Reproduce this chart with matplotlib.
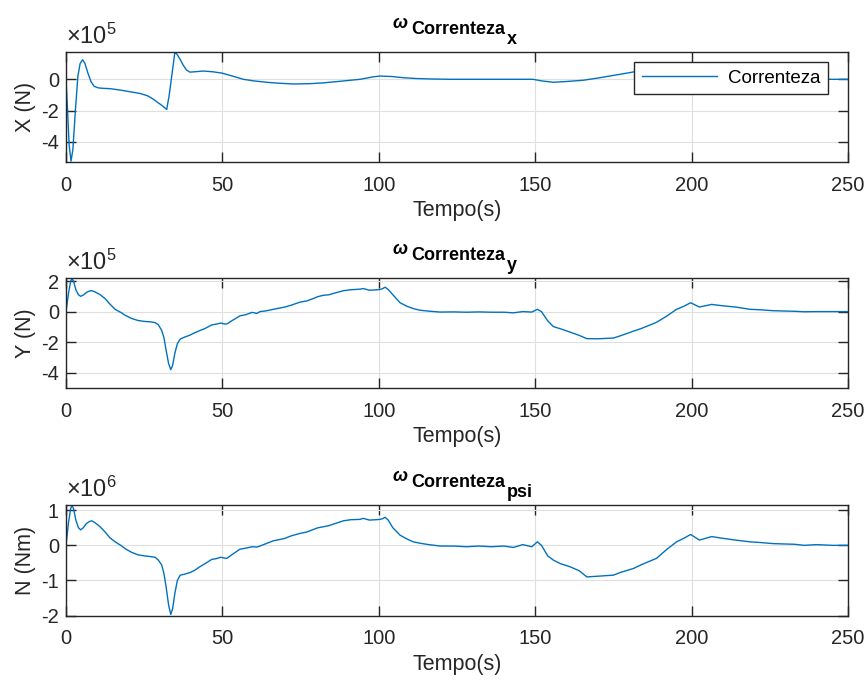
import numpy as np
import matplotlib
matplotlib.use("Agg")
import matplotlib.pyplot as plt
from matplotlib.ticker import FuncFormatter, FixedLocator

plt.rcParams['font.family'] = ['Liberation Sans', 'DejaVu Sans']
plt.rcParams['mathtext.fontset'] = 'custom'
plt.rcParams['mathtext.rm'] = 'Liberation Sans'
plt.rcParams['mathtext.it'] = 'Liberation Sans:italic'
plt.rcParams['mathtext.bf'] = 'Liberation Sans:bold'

# ---------------- data ----------------
x_labels = ["X (N)", "Y (N)", "N (Nm)"]
subscripts = ["x", "y", "psi"]
exponents = [5, 5, 6]
xticks = [0, 50, 100, 150, 200, 250]

# Force X (units of 1e5 N)
t_x = [0, 0.5, 1.0, 1.6, 2.2, 3.0, 3.8, 4.5, 5.3, 6.0, 7.0, 8.0, 9.0, 10.3, 12, 14.1, 17, 20,
       23.7, 26, 28, 29, 30.5, 32.2, 33, 33.8, 34.8, 35.5, 36.4, 37.5, 38.5, 39.6, 41, 43.9,
       47, 49.8, 53, 56.7, 60, 64.1, 68, 72.7, 78, 82.2, 88, 94, 98, 100.4, 104, 108, 112,
       117, 122.8, 130, 140, 149.3, 152, 155.8, 160, 165.4, 170, 175, 180, 183.5, 190, 195,
       205, 215, 225, 235, 250]
v_x = [0, -2.0, -4.2, -5.25, -4.5, -2.0, 0.2, 1.0, 1.25, 1.05, 0.4, -0.15, -0.45, -0.55,
       -0.58, -0.6, -0.68, -0.78, -0.91, -1.05, -1.28, -1.44, -1.65, -1.93, -1.0, 0.2, 1.73,
       1.6, 1.31, 0.9, 0.6, 0.46, 0.48, 0.53, 0.48, 0.4, 0.22, 0.0, -0.1, -0.19, -0.25, -0.3,
       -0.28, -0.23, -0.12, 0.0, 0.15, 0.21, 0.18, 0.1, 0.05, 0.02, 0.0, 0.0, 0.0, 0.0, -0.1,
       -0.19, -0.14, -0.06, 0.08, 0.25, 0.42, 0.55, 0.6, 0.55, 0.35, 0.15, 0.05, 0.0, 0.0]

# Force Y (units of 1e5 N)
t_y = [0, 0.8, 1.5, 1.9, 2.4, 3.2, 4.0, 4.7, 5.5, 6.5, 7.5, 8.2, 9.2, 10.9, 12.5, 14, 15.7,
       17.5, 19, 21, 23, 25, 27, 28.5, 29.5, 30.6, 31.3, 32, 32.8, 33.5, 34.1, 34.8, 35.6,
       36.5, 38, 39.5, 41, 42.8, 44.5, 46.6, 48, 49.5, 50.5, 51.4, 53, 55.6, 57.5, 59.5, 61,
       62, 64, 66.3, 68, 70, 72, 74.8, 77, 79, 80.5, 82.3, 84, 86, 88.7, 91, 94, 95, 97, 99,
       100.4, 101.2, 102, 103, 104.5, 106.8, 109, 111, 113.2, 116, 119.6, 124, 128, 132, 136,
       140, 143, 146, 148.9, 150.7, 152, 154, 155.8, 158, 161.1, 164, 166.5, 170, 175, 177,
       181.4, 184, 188.8, 192, 195.2, 197.5, 199.7, 202.5, 206.4, 210, 214, 218.7, 222, 226,
       229.3, 233, 236, 240, 245, 250]
v_y = [0, 1.2, 2.0, 2.15, 2.0, 1.4, 1.1, 1.0, 1.08, 1.25, 1.35, 1.37, 1.3, 1.11, 0.85, 0.5,
       0.15, -0.05, -0.25, -0.45, -0.58, -0.64, -0.67, -0.72, -0.85, -1.24, -1.7, -2.52, -3.4,
       -3.8, -3.5, -2.73, -2.1, -1.8, -1.66, -1.55, -1.4, -1.24, -1.1, -0.87, -0.82, -0.75,
       -0.8, -0.81, -0.6, -0.28, -0.2, -0.05, -0.12, 0.0, 0.05, 0.15, 0.22, 0.3, 0.42, 0.62,
       0.7, 0.85, 0.98, 1.07, 1.1, 1.22, 1.37, 1.43, 1.47, 1.51, 1.40, 1.42, 1.45, 1.5, 1.6,
       1.45, 1.1, 0.58, 0.35, 0.2, 0.09, 0.03, -0.03, -0.02, -0.04, -0.02, -0.04, -0.04, -0.08,
       0.0, -0.03, 0.15, 0.0, -0.6, -0.98, -1.12, -1.34, -1.55, -1.77, -1.78, -1.73, -1.6,
       -1.28, -1.1, -0.7, -0.3, 0.15, 0.35, 0.58, 0.3, 0.47, 0.38, 0.3, 0.15, 0.12, 0.06, 0.04,
       0.02, -0.01, 0.0, 0.0, 0.0]

# Moment N (units of 1e6 Nm)
t_n = t_y
v_n = [0, 0.65, 1.05, 1.13, 1.05, 0.7, 0.5, 0.44, 0.5, 0.62, 0.68, 0.70, 0.65, 0.53, 0.38,
       0.22, 0.10, 0.0, -0.1, -0.2, -0.27, -0.3, -0.32, -0.34, -0.42, -0.56, -0.8, -1.18, -1.7,
       -1.97, -1.8, -1.37, -1.0, -0.85, -0.82, -0.78, -0.72, -0.61, -0.52, -0.4, -0.38, -0.34,
       -0.36, -0.37, -0.27, -0.11, -0.08, -0.04, -0.05, -0.02, 0.05, 0.13, 0.16, 0.2, 0.27,
       0.34, 0.38, 0.45, 0.5, 0.53, 0.56, 0.62, 0.70, 0.73, 0.74, 0.77, 0.72, 0.73, 0.74, 0.76,
       0.8, 0.72, 0.5, 0.29, 0.18, 0.1, 0.06, 0.02, -0.02, -0.02, -0.04, -0.02, -0.04, -0.02,
       -0.06, 0.02, -0.04, 0.1, 0.0, -0.3, -0.42, -0.52, -0.61, -0.72, -0.9, -0.88, -0.85,
       -0.78, -0.66, -0.55, -0.37, -0.12, 0.1, 0.2, 0.31, 0.15, 0.25, 0.2, 0.15, 0.1, 0.08,
       0.05, 0.04, 0.03, 0.0, 0.02, 0.0, 0.0]

series_t = [t_x, t_y, t_n]
series_v = [np.array(v_x) * 1e5, np.array(v_y) * 1e5, np.array(v_n) * 1e6]
ylims = [(-5.3e5, 1.75e5), (-5.0e5, 2.2e5), (-2.0e6, 1.15e6)]
yticks = [[-4e5, -2e5, 0], [-4e5, -2e5, 0, 2e5], [-2e6, -1e6, 0, 1e6]]

# ---------------- figure ----------------
W, H = 868, 680
fig = plt.figure(figsize=(W / 100, H / 100), dpi=100)

axes_px = [(52, 162), (278, 388), (505, 615.5)]
left, right = 66, 848
line_color = '#0072BD'
axc = '#262626'

for i in range(3):
    top, bot = axes_px[i]
    ax = fig.add_axes([left / W, 1 - bot / H, (right - left) / W, (bot - top) / H])
    ax.plot(series_t[i], series_v[i], color=line_color, lw=1.0, label='Correnteza')
    ax.set_xlim(0, 250)
    ax.set_ylim(*ylims[i])
    ax.xaxis.set_major_locator(FixedLocator(xticks))
    ax.yaxis.set_major_locator(FixedLocator(yticks[i]))
    sc = 10 ** exponents[i]
    ax.yaxis.set_major_formatter(FuncFormatter(lambda v, p, sc=sc: f"{v / sc:g}"))
    ax.grid(True, color='#dfdfdf', lw=0.8)
    ax.set_axisbelow(True)
    for s in ax.spines.values():
        s.set_color(axc)
        s.set_linewidth(1.0)
    ax.tick_params(direction='in', length=7.5, width=1.0, colors=axc, labelsize=14.5,
                   top=True, right=True, labelcolor=axc)
    ax.tick_params(axis='x', pad=10)
    ax.tick_params(axis='y', pad=5)
    ax.set_xlabel('Tempo(s)', fontsize=15.5, color=axc, labelpad=4)
    ax.set_ylabel(x_labels[i], fontsize=15.5, color=axc)
    ax.yaxis.set_label_coords(-0.039, 0.5)

    # exponent label
    ax.annotate(r'$\times 10^{%d}$' % exponents[i], xy=(0, 1), xycoords='axes fraction',
                xytext=(0, 3), textcoords='offset pixels', ha='left', va='bottom',
                fontsize=17, color=axc)

    # title: omega_{Correnteza_{sub}}
    t1 = ax.annotate('Correnteza', xy=(0.5, 1), xycoords='axes fraction',
                     xytext=(1, 18), textcoords='offset pixels', ha='center', va='baseline',
                     fontsize=13, fontweight='bold', color='black')
    ax.annotate('ω', xy=(0, 1), xycoords=t1, xytext=(-3, 6), textcoords='offset pixels',
                ha='right', va='top', fontsize=13, fontweight='bold', fontstyle='italic',
                color='black')
    ax.annotate(subscripts[i], xy=(1, 0), xycoords=t1, xytext=(2, -10),
                textcoords='offset pixels', ha='left', va='bottom', fontsize=13,
                fontweight='bold', color='black')

    if i == 0:
        leg = ax.legend(loc='upper right', bbox_to_anchor=((828 - left) / (right - left),
                        1 - 10 / 110), borderaxespad=0, fontsize=13.5, fancybox=False,
                        framealpha=1, edgecolor=axc, handlelength=4.0, borderpad=0.4,
                        handletextpad=0.6)
        leg.get_frame().set_linewidth(1.0)

fig.savefig('out.png', dpi=100)
